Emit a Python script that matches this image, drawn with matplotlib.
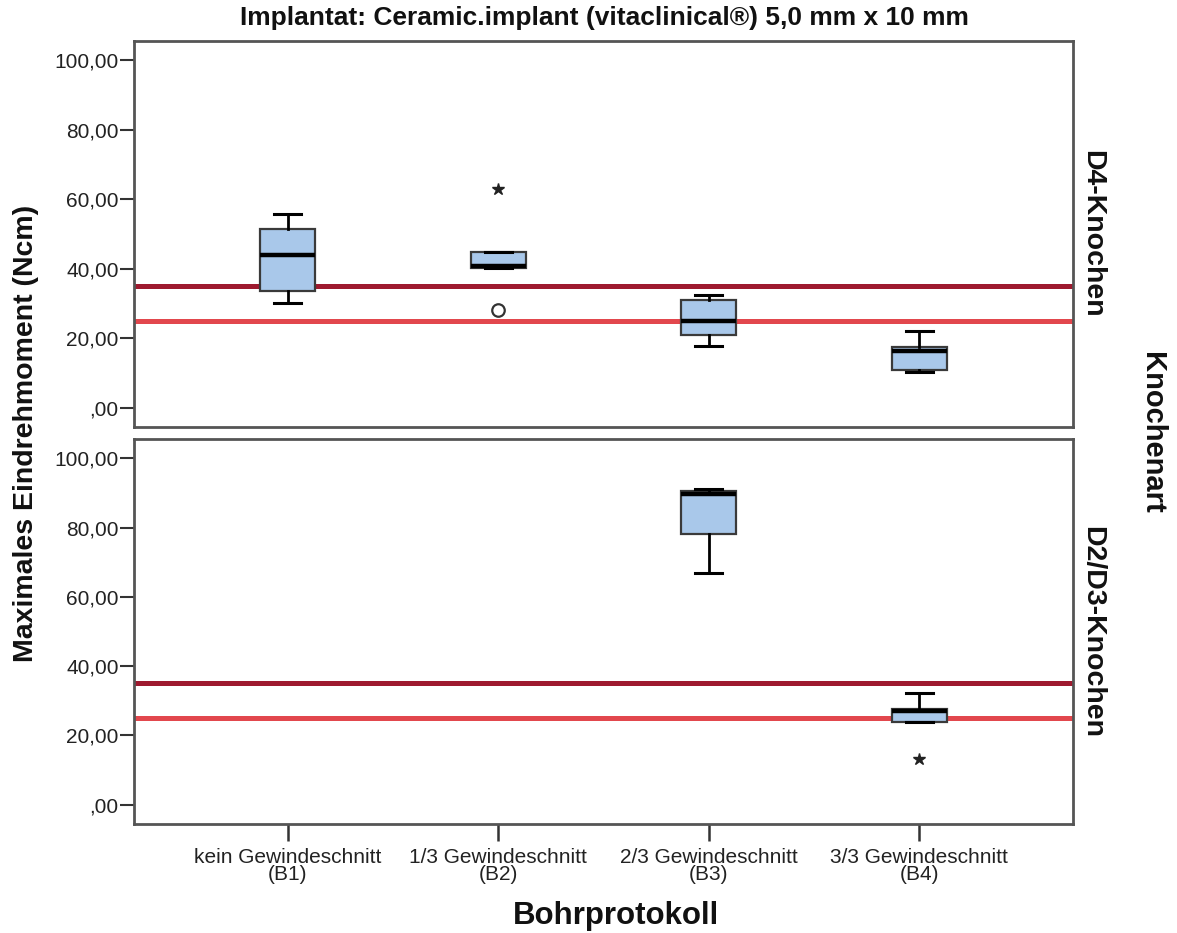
import matplotlib.pyplot as plt

# Daten
categories = ["kein Gewindeschnitt\n(B1)", "1/3 Gewindeschnitt\n(B2)",
              "2/3 Gewindeschnitt\n(B3)", "3/3 Gewindeschnitt\n(B4)"]
panels = ["D4-Knochen", "D2/D3-Knochen"]

# D4-Knochen
d4_whislo = [30.2, 40.3, 17.8, 10.1]
d4_q1 = [33.5, 40.3, 20.8, 10.9]
d4_med = [44.0, 40.7, 25.0, 16.4]
d4_q3 = [51.3, 44.9, 31.0, 17.3]
d4_whishi = [55.8, 44.9, 32.5, 21.9]
d4_mild = [[], [28.2], [], []]
d4_extreme = [[], [63.0], [], []]

# D2/D3-Knochen (nur B3 und B4)
d23_pos = [2, 3]
d23_whislo = [67.0, 24.0]
d23_q1 = [78.3, 24.0]
d23_med = [89.8, 27.0]
d23_q3 = [90.6, 27.5]
d23_whishi = [91.2, 32.3]
d23_mild = [[], []]
d23_extreme = [[], [13.3]]

ref_lines = [35, 25]
ref_colors = ["#9e1a2f", "#e2474d"]

yticks = [0, 20, 40, 60, 80, 100]
ytick_labels = [",00", "20,00", "40,00", "60,00", "80,00", "100,00"]

NARROW = ["Liberation Sans Narrow", "Liberation Sans", "DejaVu Sans"]
REGULAR = ["Liberation Sans", "DejaVu Sans"]
plt.rcParams["font.family"] = REGULAR

BOX_FILL = "#a9c8ea"


def make_stats(pos, whislo, q1, med, q3, whishi):
    stats = []
    for i in range(len(pos)):
        stats.append({"whislo": whislo[i], "q1": q1[i], "med": med[i],
                      "q3": q3[i], "whishi": whishi[i], "fliers": []})
    return stats


def draw_panel(ax, pos, whislo, q1, med, q3, whishi, mild, extreme, label):
    for y, c in zip(ref_lines, ref_colors):
        ax.axhline(y, color=c, lw=3.6, zorder=1)
    stats = make_stats(pos, whislo, q1, med, q3, whishi)
    ax.bxp(stats, positions=pos, widths=0.26, patch_artist=True, showfliers=False,
           boxprops=dict(facecolor=BOX_FILL, edgecolor="#3a3a3a", lw=1.6),
           medianprops=dict(color="black", lw=3.2, solid_capstyle="butt"),
           whiskerprops=dict(color="black", lw=2),
           capprops=dict(color="black", lw=2.2), capwidths=0.13,
           manage_ticks=False, zorder=3)
    for p, vals in zip(pos, mild):
        for v in vals:
            ax.plot(p, v, marker="o", ms=9, mfc="white", mec="#333333", mew=1.6, zorder=4)
    for p, vals in zip(pos, extreme):
        for v in vals:
            ax.plot(p, v, marker="*", ms=9, color="#222222", zorder=4)
    ax.set_xlim(-0.73, 3.73)
    ax.set_ylim(-5.6, 105.6)
    ax.set_yticks(yticks)
    ax.set_yticklabels(ytick_labels, fontsize=15, color="#222222")
    ax.tick_params(axis="y", length=10, width=1.5, color="#333333", pad=1)
    for s in ax.spines.values():
        s.set_color("#555555")
        s.set_linewidth(2)
    ax.text(1.007, 0.5, label, transform=ax.transAxes, rotation=-90,
            ha="left", va="center", fontsize=20.5, fontweight="bold",
            color="#111111", family=NARROW)


fig = plt.figure(figsize=(11.77, 9.33), dpi=100)
ax1 = fig.add_axes([0.1139, 0.5424, 0.7977, 0.4137])
ax2 = fig.add_axes([0.1139, 0.1168, 0.7977, 0.4127])

draw_panel(ax1, [0, 1, 2, 3], d4_whislo, d4_q1, d4_med, d4_q3, d4_whishi,
           d4_mild, d4_extreme, panels[0])
draw_panel(ax2, d23_pos, d23_whislo, d23_q1, d23_med, d23_q3, d23_whishi,
           d23_mild, d23_extreme, panels[1])

ax1.set_xticks([])
ax2.set_xticks([0, 1, 2, 3])
ax2.set_xticklabels(categories, fontsize=15, color="#222222", linespacing=0.9)
ax2.tick_params(axis="x", length=12, width=1.8, color="#333333", pad=5)

fig.text(0.5134, 0.981, "Implantat: Ceramic.implant (vitaclinical®) 5,0 mm x 10 mm",
         ha="center", va="center", fontsize=19, fontweight="bold", color="#111111",
         family=NARROW)
fig.text(0.022, 0.535, "Maximales Eindrehmoment (Ncm)", rotation=90,
         ha="center", va="center", fontsize=20.5, fontweight="bold", color="#111111",
         family=NARROW)
fig.text(0.5234, 0.018, "Bohrprotokoll", ha="center", va="center",
         fontsize=22.5, fontweight="bold", color="#111111", family=NARROW)
fig.text(0.979, 0.536, "Knochenart", rotation=-90, ha="center", va="center",
         fontsize=21, fontweight="bold", color="#111111", family=NARROW)

fig.savefig("out.png", dpi=100, facecolor="white")
